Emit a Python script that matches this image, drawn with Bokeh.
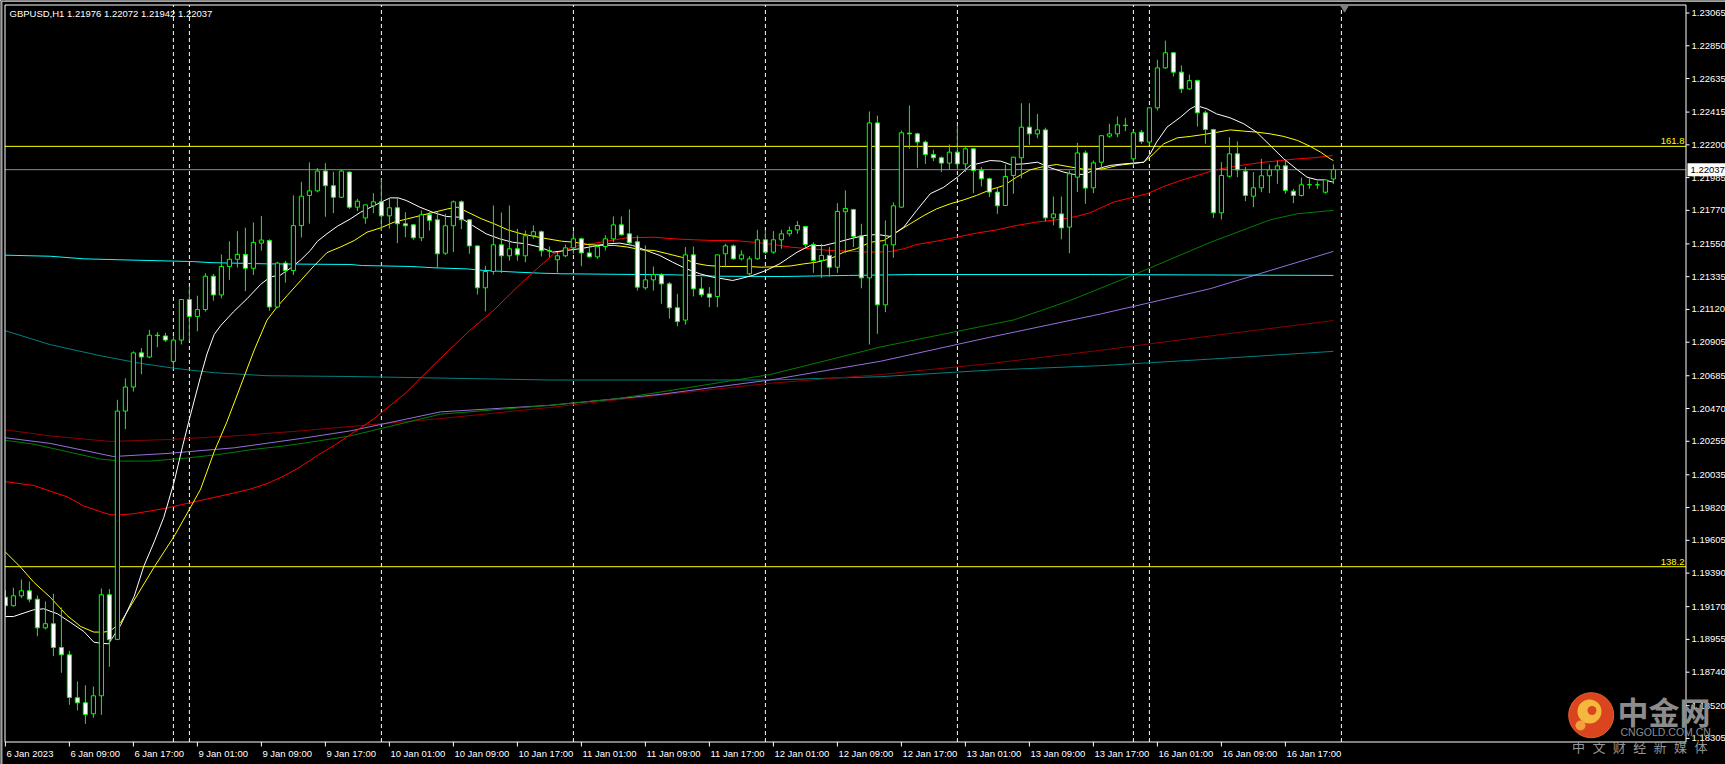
from bokeh.plotting import figure
from bokeh.models import Range1d, ColumnDataSource
from bokeh.core.properties import value
from bokeh.embed import file_html
from bokeh.resources import INLINE

# ------------------------------------------------------------------ data
title_text = "GBPUSD,H1  1.21976 1.22072 1.21942 1.22037"

opens = [1.19232, 1.19176, 1.19241, 1.19274, 1.19219, 1.19031, 1.19058, 1.18902, 1.18854, 1.18572,
         1.18539, 1.18467, 1.18585, 1.19248, 1.18955, 1.20453, 1.20611, 1.20835, 1.20808, 1.20951,
         1.20946, 1.20779, 1.20919, 1.21185, 1.21074, 1.21119, 1.21338, 1.21215, 1.21402, 1.21449,
         1.21481, 1.21390, 1.21555, 1.21572, 1.21136, 1.21424, 1.21375, 1.21670, 1.21868, 1.21898,
         1.22028, 1.21932, 1.21856, 1.22021, 1.21791, 1.21720, 1.21800, 1.21826, 1.21734, 1.21787,
         1.21682, 1.21675, 1.21590, 1.21741, 1.21708, 1.21489, 1.21669, 1.21826, 1.21708, 1.21537,
         1.21262, 1.21369, 1.21544, 1.21472, 1.21518, 1.21472, 1.21603, 1.21630, 1.21505, 1.21446,
         1.21472, 1.21524, 1.21583, 1.21491, 1.21465, 1.21533, 1.21583, 1.21675, 1.21616, 1.21564,
         1.21262, 1.21314, 1.21349, 1.21288, 1.21131, 1.21050, 1.21478, 1.21255, 1.21222, 1.21205,
         1.21485, 1.21537, 1.21452, 1.21354, 1.21452, 1.21577, 1.21496, 1.21577, 1.21616, 1.21642,
         1.21664, 1.21546, 1.21441, 1.21474, 1.21397, 1.21761, 1.21776, 1.21603, 1.21327, 1.22344,
         1.21150, 1.21544, 1.21791, 1.22277, 1.22272, 1.22218, 1.22136, 1.22115, 1.22080, 1.22152,
         1.22075, 1.22174, 1.22032, 1.21977, 1.21890, 1.21802, 1.21999, 1.22115, 1.22316, 1.22272,
         1.22298, 1.21721, 1.21747, 1.21660, 1.21988, 1.22147, 1.21918, 1.22086, 1.22257, 1.22272,
         1.22329, 1.22108, 1.22283, 1.22218, 1.22443, 1.22705, 1.22804, 1.22677, 1.22567, 1.22622,
         1.22410, 1.22300, 1.21754, 1.21994, 1.22141, 1.22027, 1.21863, 1.21918, 1.21997, 1.22036,
         1.22062, 1.21896, 1.21868, 1.21938, 1.21938, 1.21889, 1.21976]
highs = [1.19276, 1.19294, 1.19348, 1.19335, 1.19243, 1.19204, 1.19254, 1.19165, 1.18880, 1.18679,
         1.18654, 1.18646, 1.19289, 1.19285, 1.20527, 1.20668, 1.20845, 1.20867, 1.20986, 1.20971,
         1.20966, 1.20944, 1.21185, 1.21272, 1.21210, 1.21358, 1.21353, 1.21481, 1.21567, 1.21634,
         1.21656, 1.21691, 1.21733, 1.21580, 1.21432, 1.21439, 1.21868, 1.21957, 1.22085, 1.22048,
         1.22080, 1.22023, 1.22035, 1.22025, 1.21846, 1.21806, 1.21883, 1.21977, 1.21846, 1.21852,
         1.21758, 1.21680, 1.21769, 1.21758, 1.21758, 1.21747, 1.21835, 1.21835, 1.21712, 1.21540,
         1.21406, 1.21802, 1.21756, 1.21802, 1.21649, 1.21638, 1.21671, 1.21638, 1.21533, 1.21496,
         1.21546, 1.21634, 1.21590, 1.21546, 1.21546, 1.21607, 1.21730, 1.21730, 1.21776, 1.21605,
         1.21540, 1.21402, 1.21358, 1.21299, 1.21222, 1.21529, 1.21533, 1.21332, 1.21266, 1.21478,
         1.21550, 1.21546, 1.21507, 1.21470, 1.21642, 1.21642, 1.21634, 1.21642, 1.21664, 1.21700,
         1.21668, 1.21561, 1.21550, 1.21529, 1.21817, 1.21901, 1.21780, 1.21682, 1.22419, 1.22392,
         1.21704, 1.21822, 1.22294, 1.22458, 1.22279, 1.22229, 1.22167, 1.22124, 1.22202, 1.22327,
         1.22185, 1.22180, 1.22054, 1.21984, 1.21922, 1.22071, 1.22119, 1.22473, 1.22473, 1.22403,
         1.22312, 1.21861, 1.21861, 1.22032, 1.22213, 1.22163, 1.22097, 1.22260, 1.22338, 1.22386,
         1.22377, 1.22294, 1.22298, 1.22443, 1.22758, 1.22884, 1.22808, 1.22721, 1.22661, 1.22627,
         1.22425, 1.22305, 1.22087, 1.22250, 1.22222, 1.22054, 1.22021, 1.22108, 1.22071, 1.22097,
         1.22101, 1.21911, 1.21984, 1.21988, 1.21960, 1.21966, 1.22072]
lows = [1.19112, 1.19170, 1.19226, 1.19199, 1.18976, 1.19020, 1.18845, 1.18736, 1.18526, 1.18489,
        1.18401, 1.18440, 1.18460, 1.18775, 1.18950, 1.20335, 1.20581, 1.20695, 1.20800, 1.20872,
        1.20907, 1.20742, 1.20890, 1.20914, 1.20976, 1.21106, 1.21178, 1.21193, 1.21314, 1.21395,
        1.21240, 1.21346, 1.21506, 1.21111, 1.21129, 1.21296, 1.21346, 1.21592, 1.21683, 1.21888,
        1.21728, 1.21752, 1.21850, 1.21780, 1.21765, 1.21682, 1.21752, 1.21634, 1.21650, 1.21555,
        1.21594, 1.21577, 1.21568, 1.21638, 1.21393, 1.21478, 1.21496, 1.21647, 1.21485, 1.21218,
        1.21107, 1.21349, 1.21360, 1.21440, 1.21440, 1.21430, 1.21583, 1.21467, 1.21463, 1.21362,
        1.21463, 1.21485, 1.21404, 1.21460, 1.21452, 1.21507, 1.21561, 1.21605, 1.21546, 1.21244,
        1.21249, 1.21244, 1.21157, 1.21060, 1.21010, 1.21020, 1.21205, 1.21200, 1.21135, 1.21135,
        1.21397, 1.21446, 1.21441, 1.21343, 1.21446, 1.21485, 1.21485, 1.21518, 1.21599, 1.21616,
        1.21518, 1.21360, 1.21327, 1.21336, 1.21360, 1.21489, 1.21529, 1.21259, 1.20890, 1.20960,
        1.21102, 1.21459, 1.21787, 1.22174, 1.22049, 1.22075, 1.22093, 1.22021, 1.22036, 1.22036,
        1.22021, 1.21883, 1.21927, 1.21857, 1.21747, 1.21800, 1.21879, 1.21980, 1.22200, 1.22244,
        1.21697, 1.21671, 1.21580, 1.21489, 1.21890, 1.21813, 1.21883, 1.22032, 1.22246, 1.22250,
        1.22290, 1.22065, 1.22207, 1.22196, 1.22425, 1.22699, 1.22648, 1.22540, 1.22560, 1.22320,
        1.22207, 1.21720, 1.21710, 1.21984, 1.21988, 1.21830, 1.21791, 1.21889, 1.21883, 1.21944,
        1.21879, 1.21817, 1.21861, 1.21911, 1.21911, 1.21879, 1.21942]
closes = [1.19176, 1.19241, 1.19274, 1.19219, 1.19031, 1.19058, 1.18902, 1.18854, 1.18574, 1.18539,
          1.18462, 1.18585, 1.19248, 1.18953, 1.20453, 1.20611, 1.20835, 1.20808, 1.20951, 1.20948,
          1.20919, 1.20919, 1.21185, 1.21074, 1.21119, 1.21338, 1.21215, 1.21402, 1.21449, 1.21481,
          1.21390, 1.21560, 1.21575, 1.21136, 1.21424, 1.21375, 1.21670, 1.21863, 1.21898, 1.22028,
          1.21932, 1.21856, 1.22028, 1.21791, 1.21830, 1.21806, 1.21826, 1.21734, 1.21787, 1.21682,
          1.21669, 1.21590, 1.21741, 1.21704, 1.21485, 1.21669, 1.21826, 1.21708, 1.21537, 1.21262,
          1.21369, 1.21544, 1.21472, 1.21518, 1.21478, 1.21603, 1.21630, 1.21505, 1.21503, 1.21472,
          1.21524, 1.21583, 1.21491, 1.21465, 1.21533, 1.21583, 1.21675, 1.21610, 1.21557, 1.21266,
          1.21314, 1.21349, 1.21288, 1.21131, 1.21040, 1.21478, 1.21255, 1.21216, 1.21200, 1.21478,
          1.21537, 1.21452, 1.21478, 1.21452, 1.21577, 1.21496, 1.21577, 1.21616, 1.21638, 1.21671,
          1.21546, 1.21441, 1.21474, 1.21397, 1.21763, 1.21782, 1.21599, 1.21327, 1.22344, 1.21150,
          1.21544, 1.21800, 1.22279, 1.22272, 1.22218, 1.22136, 1.22115, 1.22080, 1.22152, 1.22075,
          1.22174, 1.22032, 1.21977, 1.21890, 1.21800, 1.21992, 1.22119, 1.22316, 1.22272, 1.22298,
          1.21721, 1.21747, 1.21655, 1.22010, 1.22147, 1.21916, 1.22082, 1.22260, 1.22272, 1.22331,
          1.22326, 1.22279, 1.22222, 1.22443, 1.22705, 1.22804, 1.22677, 1.22567, 1.22622, 1.22410,
          1.22300, 1.21754, 1.21999, 1.22141, 1.22036, 1.21868, 1.21918, 1.21997, 1.22036, 1.22062,
          1.21901, 1.21868, 1.21938, 1.21940, 1.21938, 1.21970, 1.22037]

# moving-average lines: (bar index, price)
ma_white_x = [0, 1, 3.5, 4.8, 6.5, 8.1, 9.8, 11.05, 11.9, 12.9, 14.4, 16.1, 17.3, 18.6, 19.8, 21.1, 22.1, 23.1,
              24.4, 25.2, 26.1, 26.9, 28.5, 30.2, 31.9, 33.1, 34.4, 35.6, 36.9, 38.1, 39, 40.2, 41.5, 43.1,
              44.4, 46.1, 48.1, 49.1, 50.1, 51.8, 53.4, 55.1, 56.8, 58.4, 60.1, 61.8, 63.4, 65.1, 66.8, 68.4,
              70.1, 71.8, 73.4, 75.1, 76.8, 78.4, 80.1, 81.8, 83.4, 85.1, 86.8, 88.4, 89.7, 90.9, 91.8, 93.4,
              95.1, 96.8, 98.97, 100.6, 102.3, 104, 105.6, 107.3, 109, 110.6, 112.3, 113.9, 115.6, 117.3, 119,
              120.6, 122.3, 123.1, 124.4, 125.6, 127.3, 129, 130.6, 132.3, 133.5, 134.8, 136.5, 138.1, 139.8,
              141, 142.3, 143.1, 143.9, 145.2, 146.9, 148.1, 148.9, 150.2, 151.4, 153.1, 154.8, 156.4, 158.1,
              159.8, 161.5, 162.7, 164, 164.8, 166]
ma_white_y = [1.19105, 1.19105, 1.19149, 1.19156, 1.19123, 1.19068, 1.19007, 1.18937, 1.18930, 1.18926,
              1.19048, 1.19238, 1.19435, 1.19595, 1.19756, 1.19990, 1.20212, 1.20421, 1.20680, 1.20828,
              1.20956, 1.21013, 1.21104, 1.21190, 1.21284, 1.21333, 1.21346, 1.21390, 1.21444, 1.21506,
              1.21567, 1.21617, 1.21666, 1.21713, 1.21758, 1.21802, 1.21852, 1.21852, 1.21835, 1.21791,
              1.21758, 1.21730, 1.21725, 1.21671, 1.21616, 1.21583, 1.21561, 1.21550, 1.21529, 1.21496,
              1.21507, 1.21518, 1.21533, 1.21550, 1.21555, 1.21540, 1.21507, 1.21474, 1.21430, 1.21387,
              1.21354, 1.21332, 1.21321, 1.21310, 1.21321, 1.21343, 1.21376, 1.21420, 1.21496, 1.21539,
              1.21539, 1.21561, 1.21583, 1.21605, 1.21612, 1.21599, 1.21660, 1.21769, 1.21879, 1.21922,
              1.21988, 1.22064, 1.22086, 1.22097, 1.22093, 1.22071, 1.22075, 1.22086, 1.22050, 1.22021,
              1.22006, 1.22006, 1.22043, 1.22065, 1.22075, 1.22080, 1.22086, 1.22140, 1.22218, 1.22316,
              1.22382, 1.22436, 1.22458, 1.22436, 1.22403, 1.22377, 1.22338, 1.22283, 1.22196, 1.22108,
              1.22036, 1.21988, 1.21970, 1.21970, 1.21955]
ma_yellow_x = [0, 1.9, 3.55, 5.6, 7.7, 9.4, 11.05, 12.3, 13.1, 14.4, 16.1, 18.6, 21.1, 23.1, 24.4, 26.1, 27.7,
               29.4, 31.1, 32.7, 33.95, 35.2, 36.9, 38.6, 40.2, 41.9, 43.6, 45.2, 46.9, 48.6, 50.3, 51.9, 53.6,
               55.3, 56.5, 57.8, 59.5, 61.1, 62.8, 64.5, 66.1, 67.8, 69.5, 71.1, 72.8, 74.5, 76.1, 77.8, 79.5,
               81.1, 82.8, 84.5, 86.1, 87.8, 89.5, 91.2, 92.8, 94.5, 96.2, 98.1, 99.8, 101.4, 103.1, 104.8,
               106.4, 108.1, 109.8, 111.4, 113.1, 114.8, 116.4, 118.1, 119.8, 121.4, 123.1, 124.8, 126.4,
               128.1, 129.8, 131.4, 133.1, 134.8, 137.3, 139, 140.6, 142.3, 143.5, 144.8, 146.5, 148.1, 149.8,
               151.5, 153.1, 154.8, 156.5, 158.1, 159.8, 161.5, 163.1, 164.4, 165.6, 166]
ma_yellow_y = [1.19528, 1.19429, 1.19330, 1.19232, 1.19112, 1.19040, 1.19003, 1.19003, 1.19010, 1.19065,
               1.19213, 1.19430, 1.19632, 1.19817, 1.19941, 1.20187, 1.20384, 1.20618, 1.20853, 1.21050,
               1.21136, 1.21210, 1.21309, 1.21407, 1.21493, 1.21530, 1.21572, 1.21627, 1.21655, 1.21693,
               1.21715, 1.21736, 1.21758, 1.21780, 1.21791, 1.21758, 1.21715, 1.21682, 1.21642, 1.21616,
               1.21599, 1.21583, 1.21568, 1.21561, 1.21546, 1.21540, 1.21540, 1.21529, 1.21511, 1.21507,
               1.21485, 1.21463, 1.21424, 1.21408, 1.21402, 1.21402, 1.21402, 1.21397, 1.21400, 1.21405,
               1.21419, 1.21430, 1.21452, 1.21496, 1.21518, 1.21561, 1.21572, 1.21627, 1.21682, 1.21736,
               1.21780, 1.21813, 1.21839, 1.21868, 1.21905, 1.21933, 1.21988, 1.22036, 1.22058, 1.22071,
               1.22055, 1.22040, 1.22043, 1.22065, 1.22075, 1.22086, 1.22140, 1.22207, 1.22246, 1.22255,
               1.22268, 1.22283, 1.22298, 1.22290, 1.22283, 1.22272, 1.22255, 1.22229, 1.22190, 1.22152,
               1.22108, 1.22097]
ma_red_x = [0, 3.55, 5.6, 7.7, 9.8, 11.9, 13.1, 14.4, 16.1, 18.1, 20.2, 22.3, 24.4, 26.5, 28.6, 30.6, 32.7,
            34.8, 36.9, 39, 41, 43.1, 46, 50, 54, 58, 61, 64.4, 66.9, 68.55, 71.05, 74.4, 77.7, 81.1, 83.6,
            86.1, 88.6, 91.1, 93.6, 96.1, 98.1, 100.6, 103.1, 105.6, 108.1, 110.6, 112.3, 113.9, 116.4, 118.9,
            121.4, 123.9, 126.4, 128.9, 131.4, 133.9, 135.6, 138.5, 141, 142.7, 144.8, 146.9, 149, 151, 153.1,
            155.2, 157.3, 159.4, 161.5, 163.6, 165.9]
ma_red_y = [1.19990, 1.19965, 1.19928, 1.19891, 1.19830, 1.19793, 1.19773, 1.19773, 1.19780, 1.19798,
            1.19817, 1.19842, 1.19867, 1.19891, 1.19916, 1.19941, 1.19977, 1.20027, 1.20088, 1.20162,
            1.20224, 1.20298, 1.20400, 1.20570, 1.20780, 1.20980, 1.21113, 1.21288, 1.21408, 1.21485,
            1.21533, 1.21561, 1.21590, 1.21594, 1.21583, 1.21577, 1.21572, 1.21572, 1.21561, 1.21546,
            1.21529, 1.21518, 1.21507, 1.21502, 1.21496, 1.21500, 1.21518, 1.21546, 1.21568, 1.21594,
            1.21621, 1.21642, 1.21671, 1.21693, 1.21708, 1.21730, 1.21755, 1.21824, 1.21857, 1.21879,
            1.21927, 1.21966, 1.21999, 1.22032, 1.22054, 1.22071, 1.22086, 1.22097, 1.22108, 1.22115,
            1.22130]
ma_green_x = [0, 3.55, 7.7, 11.9, 14.4, 18.1, 22.3, 26.5, 30.6, 34.8, 39, 43.1, 54.4, 68.1, 76.4, 81.9, 95.6,
              109.4, 126.1, 133.1, 141, 150.6, 158.1, 161.5, 166]
ma_green_y = [1.20261, 1.20236, 1.20187, 1.20138, 1.20125, 1.20125, 1.20143, 1.20167, 1.20199, 1.20224,
              1.20256, 1.20290, 1.20433, 1.20491, 1.20534, 1.20578, 1.20693, 1.20874, 1.21052, 1.21179,
              1.21346, 1.21560, 1.21708, 1.21748, 1.21770]
ma_purple_x = [0, 5.6, 13.5, 20.2, 28.6, 36.9, 43.1, 54.4, 68.1, 76.4, 81.9, 95.6, 109.4, 123.1, 136.9, 150.6, 166]
ma_purple_y = [1.20278, 1.20241, 1.20155, 1.20175, 1.20212, 1.20273, 1.20323, 1.20448, 1.20491, 1.20534,
               1.20563, 1.20657, 1.20780, 1.20938, 1.21090, 1.21256, 1.21501]
ma_maroon_x = [0, 5.6, 13.1, 20.2, 28.6, 36.9, 43.1, 54.4, 68.1, 76.4, 95.6, 109.4, 123.1, 136.9, 150.6, 166]
ma_maroon_y = [1.20330, 1.20290, 1.20254, 1.20266, 1.20290, 1.20323, 1.20352, 1.20404, 1.20477, 1.20527,
               1.20636, 1.20693, 1.20765, 1.20852, 1.20946, 1.21047]
ma_teal_x = [0, 5.6, 11.9, 16.9, 21.1, 26.1, 32.7, 43.1, 68.1, 95.6, 109.4, 123.1, 136.9, 150.6, 166]
ma_teal_y = [1.20980, 1.20889, 1.20816, 1.20766, 1.20734, 1.20705, 1.20685, 1.20680, 1.20657, 1.20657,
             1.20679, 1.20722, 1.20751, 1.20794, 1.20845]
ma_cyan_x = [0, 5.6, 9.8, 15.6, 23.5, 25.7, 32.7, 43.1, 44.6, 50.6, 53.7, 57.7, 59.8, 63.8, 66.9, 69.6, 83.6,
             89, 96.9, 105.4, 113.5, 135.6, 166]
ma_cyan_y = [1.21476, 1.21469, 1.21452, 1.21444, 1.21434, 1.21427, 1.21419, 1.21415, 1.21408, 1.21402,
             1.21393, 1.21386, 1.21376, 1.21365, 1.21358, 1.21354, 1.21347, 1.21338, 1.21336, 1.21343,
             1.21349, 1.21349, 1.21343]

time_labels = ["6 Jan 2023", "6 Jan 09:00", "6 Jan 17:00", "9 Jan 01:00", "9 Jan 09:00", "9 Jan 17:00",
               "10 Jan 01:00", "10 Jan 09:00", "10 Jan 17:00", "11 Jan 01:00", "11 Jan 09:00", "11 Jan 17:00",
               "12 Jan 01:00", "12 Jan 09:00", "12 Jan 17:00", "13 Jan 01:00", "13 Jan 09:00", "13 Jan 17:00",
               "16 Jan 01:00", "16 Jan 09:00", "16 Jan 17:00"]
time_label_bars = list(range(0, 161, 8))
separator_bars = [21, 23, 47, 71, 95, 119, 141, 143, 167]
price_ticks = [1.18305, 1.18520, 1.18740, 1.18955, 1.19170, 1.19390, 1.19605, 1.19820, 1.20035, 1.20255,
               1.20470, 1.20685, 1.20905, 1.21120, 1.21335, 1.21550, 1.21770, 1.21985, 1.22200, 1.22415,
               1.22635, 1.22850, 1.23065]
fib_names = ["161.8", "138.2"]
fib_prices = [1.22190, 1.19432]
bid_price = 1.22037
shift_marker_bar = 167.4
watermark_name = "中金网"
watermark_site = "CNGOLD.COM.CN"
watermark_slogan = list("中文财经新媒体")

# ------------------------------------------------------------------ layout (window pixels -> data)
W, H = 1725, 764
PX_PER_BAR = 8.0
BAR0_PX = 4.9                 # x pixel of bar 0
PX_PER_PRICE = 15241.0
REF_PRICE, REF_PRICE_PX = 1.23065, 12.5


def rx(px):
    return (px - BAR0_PX) / PX_PER_BAR


def ry(py):
    return REF_PRICE - (py - REF_PRICE_PX) / PX_PER_PRICE


X_START, X_END = rx(0), rx(W)
Y_START, Y_END = ry(H), ry(0)
BARS_L, BARS_R = rx(4.5), rx(1685.5)       # chart area
PRICE_T, PRICE_B = ry(4.5), ry(741.5)

FONT = value("Liberation Sans")
FS = value("9.5px")

p = figure(width=W, height=H, x_range=Range1d(X_START, X_END), y_range=Range1d(Y_START, Y_END),
           output_backend="svg", toolbar_location=None, x_axis_location=None, y_axis_location=None,
           background_fill_color="black", border_fill_color="black", outline_line_color=None,
           min_border=0)
p.grid.visible = False

# day separators / vertical lines
k = len(separator_bars)
p.segment(x0=separator_bars, y0=[PRICE_B] * k, x1=separator_bars, y1=[PRICE_T] * k,
          line_color="white", line_width=1, line_dash="4 3")
# fibonacci levels and bid line
p.segment(x0=[BARS_L] * 2, y0=fib_prices, x1=[BARS_R] * 2, y1=fib_prices, line_color="#FFFF00", line_width=1)
p.segment(x0=[BARS_L], y0=[bid_price], x1=[BARS_R], y1=[bid_price], line_color="#8C8C8C", line_width=1)

# moving averages
for xs, ys, col in [(ma_teal_x, ma_teal_y, "#008080"), (ma_maroon_x, ma_maroon_y, "#8B0000"),
                    (ma_purple_x, ma_purple_y, "#9370DB"), (ma_green_x, ma_green_y, "#008000"),
                    (ma_cyan_x, ma_cyan_y, "#00FFFF"), (ma_red_x, ma_red_y, "#FF0000"),
                    (ma_yellow_x, ma_yellow_y, "#FFFF00"), (ma_white_x, ma_white_y, "#FFFFFF")]:
    p.line(xs, ys, line_color=col, line_width=1)

# candles
bars = list(range(len(opens)))
src = ColumnDataSource(dict(
    x=bars, high=highs, low=lows,
    top=[max(o, c) for o, c in zip(opens, closes)],
    bot=[min(o, c) for o, c in zip(opens, closes)],
    fill=["black" if c > o else "white" for o, c in zip(opens, closes)],
))
p.segment(x0="x", y0="low", x1="x", y1="high", source=src, line_color="#00FF00", line_width=1)
p.vbar(x="x", width=0.52, top="top", bottom="bot", source=src, fill_color="fill",
       line_color="#00FF00", line_width=1)

# window edge and chart frame
p.quad(left=[X_START], right=[BARS_L], top=[Y_END], bottom=[Y_START], fill_color="black", line_color=None)
p.quad(left=[X_START], right=[rx(2)], top=[Y_END], bottom=[Y_START], fill_color="#A0A0A0", line_color=None)
p.quad(left=[X_START], right=[X_END], top=[Y_END], bottom=[ry(1.5)], fill_color="#A0A0A0", line_color=None)
p.line([BARS_L, BARS_L, BARS_R, BARS_R, BARS_L], [PRICE_B, PRICE_T, PRICE_T, PRICE_B, PRICE_B],
       line_color="white", line_width=1)

# chart shift marker
p.scatter([shift_marker_bar], [ry(7)], marker="inverted_triangle", size=8,
          fill_color="#7F7F7F", line_color="#7F7F7F")

# price scale
n = len(price_ticks)
p.segment(x0=[BARS_R] * n, y0=price_ticks, x1=[rx(1689)] * n, y1=price_ticks, line_color="white", line_width=1)
p.text(x=[rx(1691)] * n, y=price_ticks, text=["%.5f" % t for t in price_ticks], text_color="white",
       text_font=FONT, text_font_size=FS, text_align="left", text_baseline="middle")

# time scale
m = len(time_label_bars)
p.segment(x0=time_label_bars, y0=[PRICE_B] * m, x1=time_label_bars, y1=[ry(746)] * m,
          line_color="white", line_width=1)
p.text(x=time_label_bars, y=[ry(753)] * m, text=time_labels, x_offset=1, text_color="white",
       text_font=FONT, text_font_size=FS, text_align="left", text_baseline="middle")

# bid price box
p.quad(left=[rx(1687)], right=[rx(1725)], top=[bid_price + 6.5 / PX_PER_PRICE],
       bottom=[bid_price - 6.5 / PX_PER_PRICE], fill_color="white", line_color=None)
p.text(x=[rx(1690)], y=[bid_price], text=["%.5f" % bid_price], text_color="black",
       text_font=FONT, text_font_size=FS, text_align="left", text_baseline="middle")

# title and fibonacci captions
p.text(x=[rx(9)], y=[ry(13)], text=[title_text], text_color="white", text_font=FONT,
       text_font_size=FS, text_align="left", text_baseline="middle")
p.text(x=[rx(1684)] * 2, y=fib_prices, text=fib_names, y_offset=-2, text_color="#FFFF00", text_font=FONT,
       text_font_size=FS, text_align="right", text_baseline="bottom")

# watermark
p.scatter([rx(1590.7)], [ry(714.7)], marker="circle", size=45, fill_color="#DA4520", line_color="#E4622C")
p.scatter([rx(1589)], [ry(711)], marker="circle", size=24, fill_color="#F5B83E", line_color=None)
p.scatter([rx(1580)], [ry(725)], marker="circle", size=10, fill_color="#F2A23A", line_color=None)
p.scatter([rx(1591.5)], [ry(710)], marker="circle", size=9, fill_color="#DA4520", line_color=None)
p.text(x=[rx(1617)], y=[ry(710)], text=[watermark_name], text_color="#8C8C8C",
       text_font=value("Noto Sans CJK SC"), text_font_size=value("31px"), text_font_style="bold",
       text_align="left", text_baseline="middle")
p.text(x=[rx(1620)], y=[ry(731.5)], text=[watermark_site], text_color="#8C8C8C", text_font=FONT,
       text_font_size=value("10.5px"), text_align="left", text_baseline="middle")
p.text(x=[rx(1578 + 20.4 * j) for j in range(len(watermark_slogan))], y=[ry(746)] * len(watermark_slogan),
       text=watermark_slogan, text_color="#959595", text_font=value("Noto Sans CJK SC"),
       text_font_size=value("13px"), text_align="center", text_baseline="middle")

open("out.html", "w").write(file_html(p, INLINE))
